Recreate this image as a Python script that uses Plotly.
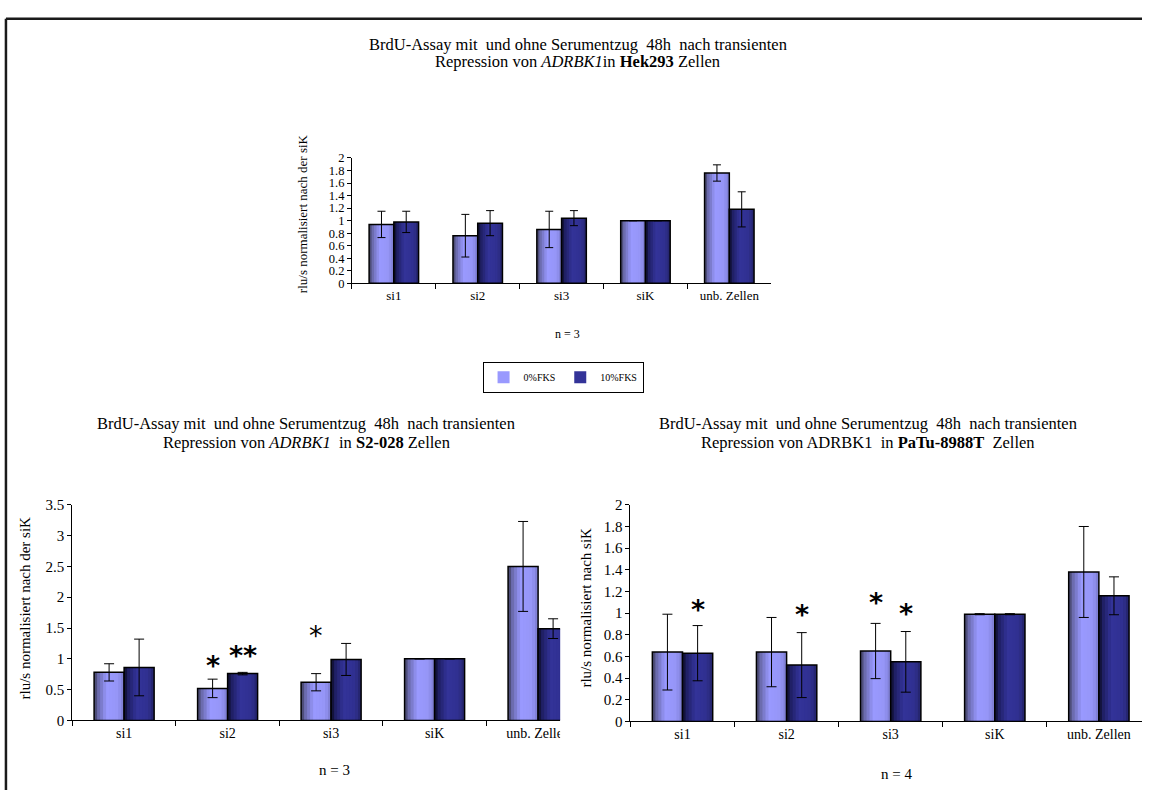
import plotly.graph_objects as go

W, H = 1152, 798

# ---------------- data ----------------
categories = ["si1", "si2", "si3", "siK", "unb. Zellen"]
series_names = ["0%FKS", "10%FKS"]

hek_0 = [0.94, 0.76, 0.86, 1.00, 1.76]
hek_0_err = [0.21, 0.34, 0.29, 0.0, 0.13]
hek_10 = [0.98, 0.96, 1.04, 1.00, 1.18]
hek_10_err = [0.17, 0.20, 0.12, 0.0, 0.28]

s2_0 = [0.78, 0.52, 0.62, 1.00, 2.50]
s2_0_err = [0.14, 0.15, 0.14, 0.0, 0.73]
s2_10 = [0.86, 0.76, 0.99, 1.00, 1.49]
s2_10_err = [0.46, 0.02, 0.26, 0.0, 0.16]

patu_0 = [0.64, 0.64, 0.65, 0.99, 1.38]
patu_0_err = [0.35, 0.32, 0.255, 0.005, 0.42]
patu_10 = [0.63, 0.52, 0.55, 0.99, 1.16]
patu_10_err = [0.255, 0.30, 0.28, 0.005, 0.175]

hek_ytick_vals = [0, 0.2, 0.4, 0.6, 0.8, 1.0, 1.2, 1.4, 1.6, 1.8, 2.0]
hek_ytick_text = ["0", "0.2", "0.4", "0.6", "0.8", "1", "1.2", "1.4", "1.6", "1.8", "2"]
s2_ytick_vals = [0, 0.5, 1.0, 1.5, 2.0, 2.5, 3.0, 3.5]
s2_ytick_text = ["0", "0.5", "1", "1.5", "2", "2.5", "3", "3.5"]
patu_ytick_vals = hek_ytick_vals
patu_ytick_text = hek_ytick_text

# significance marks: category, series (0 = 0%FKS, 1 = 10%FKS), height, text, bold
s2_star_cat = ["si2", "si2", "si3"]
s2_star_series = [0, 1, 0]
s2_star_y = [1.00, 1.16, 1.49]
s2_star_text = ["*", "**", "*"]
s2_star_bold = [True, True, False]

patu_star_cat = ["si1", "si2", "si3", "si3"]
patu_star_series = [1, 1, 0, 1]
patu_star_y = [1.095, 1.05, 1.16, 1.06]
patu_star_text = ["*", "*", "*", "*"]
patu_star_bold = [True, True, True, True]

title_line1 = "BrdU-Assay mit  und ohne Serumentzug  48h  nach transienten"
hek_title2 = "Repression von <i>ADRBK1</i>in <b>Hek293</b> Zellen"
s2_title2 = "Repression von <i>ADRBK1</i>  in <b>S2-028</b> Zellen"
patu_title2 = "Repression von ADRBK1  in <b>PaTu-8988T</b>  Zellen"
ytitle_der = "rlu/s normalisiert nach der siK"
ytitle_patu = "rlu/s normalisiert nach siK"

# ---------------- styling helpers ----------------
FONT = "Liberation Serif, Times New Roman, serif"
STAR_FONT = "DejaVu Sans, sans-serif"
LIGHT_STOPS = [(0.0, "#3e3e5e"), (0.14, "#6a6aac"), (0.42, "#9999ff"), (0.8, "#9595f6"), (1.0, "#7a7acc")]
DARK_STOPS = [(0.0, "#0c0c28"), (0.14, "#1f1f64"), (0.42, "#333399"), (0.8, "#303090"), (1.0, "#222266")]
N_STRIPS = 10


def hex2rgb(h):
    h = h.lstrip("#")
    return tuple(int(h[i:i + 2], 16) for i in (0, 2, 4))


def grad_color(stops, u):
    for (u0, c0), (u1, c1) in zip(stops, stops[1:]):
        if u <= u1:
            t = (u - u0) / (u1 - u0)
            a, b = hex2rgb(c0), hex2rgb(c1)
            return "rgb(%d,%d,%d)" % tuple(round(a[k] + (b[k] - a[k]) * t) for k in range(3))
    return stops[-1][1]


def px(x):
    return x / W


def py(y):
    return 1 - y / H


charts = [
    dict(key="", vals=[hek_0, hek_10], errs=[hek_0_err, hek_10_err],
         x0=355, x1=778, catw=84.6, ybot=281, ytop=153, ymax=2.0,
         tv=hek_ytick_vals, tt=hek_ytick_text, w=0.295, cap=4,
         tickfont=12.5, catfont=13, legend=True),
    dict(key="2", vals=[s2_0, s2_10], errs=[s2_0_err, s2_10_err],
         x0=73, x1=565, catw=104.4, ybot=727, ytop=507, ymax=3.5,
         tv=s2_ytick_vals, tt=s2_ytick_text, w=0.29, cap=5,
         tickfont=15, catfont=14, legend=False),
    dict(key="3", vals=[patu_0, patu_10], errs=[patu_0_err, patu_10_err],
         x0=636, x1=1152, catw=105.0, ybot=728, ytop=507, ymax=2.0,
         tv=patu_ytick_vals, tt=patu_ytick_text, w=0.29, cap=5,
         tickfont=15, catfont=14, legend=False),
]

fig = go.Figure()
layout_axes = {}

for ch in charts:
    xa, ya = "x" + ch["key"], "y" + ch["key"]
    w = ch["w"]
    for side in (0, 1):
        stops = LIGHT_STOPS if side == 0 else DARK_STOPS
        base = -w if side == 0 else 0.0
        vals = ch["vals"][side]
        for i in range(N_STRIPS):
            u_mid = (i + 0.5) / N_STRIPS
            fig.add_trace(go.Bar(
                x=categories, y=vals,
                offset=base + w * i / N_STRIPS,
                width=w / N_STRIPS + (0.02 if i < N_STRIPS - 1 else 0),
                marker=dict(color=grad_color(stops, u_mid), line=dict(width=0)),
                xaxis=xa, yaxis=ya, name=series_names[side],
                legendgroup=series_names[side],
                showlegend=bool(ch["legend"] and i == int(0.45 * N_STRIPS)),
                hoverinfo="skip",
            ))
        fig.add_trace(go.Bar(
            x=categories, y=vals, offset=base, width=w,
            marker=dict(color="rgba(0,0,0,0)", line=dict(color="black", width=1.5)),
            error_y=dict(type="data", array=ch["errs"][side], visible=True,
                         color="black", thickness=1, width=ch["cap"]),
            xaxis=xa, yaxis=ya, showlegend=False, hoverinfo="skip",
        ))

    nrange = (ch["x1"] - ch["x0"]) / ch["catw"]
    layout_axes["xaxis" + ch["key"]] = dict(
        domain=[px(ch["x0"]), px(ch["x1"])], anchor=ya, type="category",
        categoryorder="array", categoryarray=categories,
        range=[-0.5, -0.5 + nrange], showline=True, linecolor="black", linewidth=1,
        ticks="outside", tickson="boundaries", ticklen=5, tickcolor="black",
        tickfont=dict(family=FONT, size=ch["catfont"], color="black"),
        showgrid=False, zeroline=False, fixedrange=True,
    )
    layout_axes["yaxis" + ch["key"]] = dict(
        domain=[py(ch["ybot"]), py(ch["ytop"])], anchor=xa,
        range=[0, ch["ymax"]], tickmode="array", tickvals=ch["tv"], ticktext=ch["tt"],
        showline=True, linecolor="black", linewidth=1, ticks="outside", ticklen=4,
        tickcolor="black", tickfont=dict(family=FONT, size=ch["tickfont"], color="black"),
        showgrid=False, zeroline=False, fixedrange=True,
    )

annotations = []


def add_text(text, x, y, size, angle=0):
    annotations.append(dict(text=text, x=px(x), y=py(y), xref="paper", yref="paper",
                            showarrow=False, xanchor="center", yanchor="middle",
                            textangle=angle, font=dict(family=FONT, size=size, color="black")))


# titles
add_text(title_line1, 583, 37, 16.5)
add_text(hek_title2, 583, 55, 16.5)
add_text(title_line1, 309, 424, 16.5)
add_text(s2_title2, 309, 443, 16.5)
add_text(title_line1, 876, 424, 16.5)
add_text(patu_title2, 876, 443, 16.5)

# axis titles
add_text(ytitle_der, 305, 210, 13, -90)
add_text(ytitle_der, 25, 612, 15, -90)
add_text(ytitle_patu, 591, 612, 15, -90)
add_text("n = 3", 572, 333, 12)
add_text("n = 3", 337, 778, 15)
add_text("n = 4", 904, 782, 15)


def add_stars(key, w, cats, sers, ys, texts, bolds):
    for c, s, yv, t, b in zip(cats, sers, ys, texts, bolds):
        xi = categories.index(c) + (-w / 2 if s == 0 else w / 2)
        annotations.append(dict(
            text=("<b>%s</b>" % t) if b else t, x=xi, y=yv,
            xref="x" + key, yref="y" + key, showarrow=False,
            xanchor="center", yanchor="middle", yshift=-7,
            font=dict(family=STAR_FONT, size=27, color="black")))


add_stars("2", 0.29, s2_star_cat, s2_star_series, s2_star_y, s2_star_text, s2_star_bold)
add_stars("3", 0.29, patu_star_cat, patu_star_series, patu_star_y, patu_star_text, patu_star_bold)

shapes = [
    # outer frame (left and top edges)
    dict(type="line", xref="paper", yref="paper", x0=px(6), x1=px(6), y0=0, y1=py(11),
         line=dict(color="#1a1a1a", width=2.5)),
    dict(type="line", xref="paper", yref="paper", x0=px(6), x1=1, y0=py(11), y1=py(11),
         line=dict(color="#1a1a1a", width=2.5)),
    # the lower left chart is cut off by the lower right one
    dict(type="rect", xref="paper", yref="paper", x0=px(565), x1=px(582), y0=py(768), y1=py(729),
         fillcolor="white", line=dict(width=0), layer="above"),
]

fig.update_layout(
    width=W, height=H, margin=dict(l=0, r=0, t=0, b=0),
    paper_bgcolor="white", plot_bgcolor="rgba(0,0,0,0)",
    barmode="overlay", showlegend=True,
    legend=dict(orientation="h", x=px(568), y=py(361), xanchor="center", yanchor="top",
                bordercolor="black", borderwidth=1, bgcolor="white",
                font=dict(family=FONT, size=10, color="black"),
                itemwidth=30, traceorder="normal"),
    annotations=annotations, shapes=shapes,
    **layout_axes,
)

fig.write_html("out.html", config={"displayModeBar": False},
               post_script="document.body.style.margin='0';document.body.style.overflow='hidden';")
